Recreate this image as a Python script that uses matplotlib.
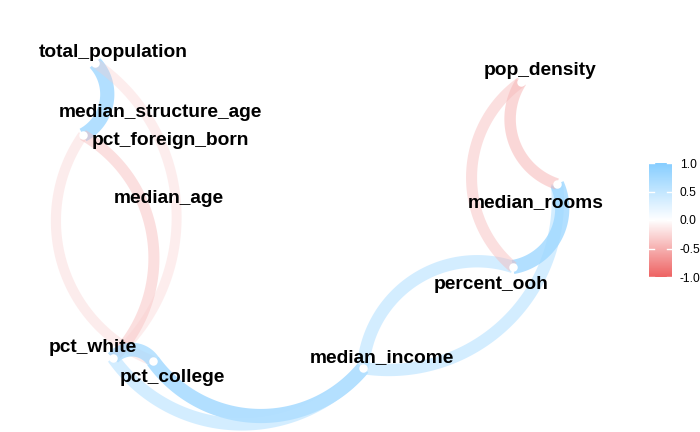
import numpy as np
import matplotlib
matplotlib.use("Agg")
import matplotlib.pyplot as plt
from matplotlib.colors import LinearSegmentedColormap

# ---- data -------------------------------------------------------------
variables = ["total_population", "median_structure_age", "pct_foreign_born",
             "median_age", "pct_white", "pct_college", "median_income",
             "percent_ooh", "median_rooms", "pop_density"]
# multidimensional-scaling layout of the variables (plot units)
layout_x = [95, 160, 83, 168.5, 113, 153, 363, 513, 557, 521]
layout_y = [369, 321, 297, 235, 74, 71, 64, 165, 248, 350]

# correlations above the minimum shown as paths
edge_from = ["total_population", "pct_college", "pct_foreign_born", "total_population",
             "pct_white", "median_income", "median_income", "median_income",
             "median_rooms", "median_rooms", "median_rooms", "percent_ooh"]
edge_to = ["pct_foreign_born", "pct_foreign_born", "pct_white", "pct_white",
           "pct_college", "pct_college", "pct_white", "percent_ooh",
           "median_income", "percent_ooh", "pop_density", "pop_density"]
edge_r = [0.80, -0.35, -0.45, -0.33,
          0.75, 0.80, 0.60, 0.60,
          0.60, 0.80, -0.50, -0.45]

legend_breaks = [-1.0, -0.5, 0.0, 0.5, 1.0]
legend_labels = ["-1.0", "-0.5", "0.0", "0.5", "1.0"]

# label placement (repelled text), baseline positions in plot units
label_x = [113.5, 160, 170.5, 168.5, 93, 172, 381.5, 491.5, 535.5, 540]
label_y = [375, 315, 287, 229, 80, 50, 70, 143, 225, 357]

# ---- styling ----------------------------------------------------------
cmap = LinearSegmentedColormap.from_list("corr", ["#EE6363", "#FFFFFF", "#87CEFF"])
W, H, DPI = 700, 432, 100
PX = 72.0 / DPI


def curve(x0, y0, x1, y1, curvature=0.49, n=120):
    mx, my = (x0 + x1) / 2, (y0 + y1) / 2
    dx, dy = x1 - x0, y1 - y0
    L = np.hypot(dx, dy)
    h = L / 2
    nx, ny = -dy / L, dx / L          # left-hand normal
    s = curvature * h
    R = (h * h + s * s) / (2 * s)
    cx, cy = mx + nx * (s - R), my + ny * (s - R)
    ab = np.arctan2(my + ny * s - cy, mx + nx * s - cx)
    phi = np.arcsin(min(1.0, h / R))
    t = np.linspace(-1, 1, n)
    px = cx + R * np.cos(ab + t * phi)
    py = cy + R * np.sin(ab + t * phi)
    if np.hypot(px[0] - x0, py[0] - y0) > np.hypot(px[-1] - x0, py[-1] - y0):
        px, py = px[::-1], py[::-1]
    return px, py


fig = plt.figure(figsize=(W / DPI, H / DPI), dpi=DPI)
ax = fig.add_axes([0, 0, 1, 1])
ax.set_xlim(0, W)
ax.set_ylim(0, H)
ax.axis("off")

pos = {v: (x, y) for v, x, y in zip(variables, layout_x, layout_y)}

for a, b, r in zip(edge_from, edge_to, edge_r):
    x0, y0 = pos[a]
    x1, y1 = pos[b]
    cx, cy = curve(x0, y0, x1, y1)
    ax.plot(cx, cy, color=cmap((r + 1) / 2), alpha=abs(r),
            lw=(7 + 9 * abs(r)) * PX, solid_capstyle="butt", zorder=1)

ax.scatter(layout_x, layout_y, s=(8.5 * PX) ** 2, color="white", zorder=3,
           linewidths=0)

for v, lx, ly in zip(variables, label_x, label_y):
    ax.text(lx, ly, v, ha="center", va="baseline", fontsize=19.2 * PX,
            fontweight="bold", family=["Liberation Sans", "DejaVu Sans"],
            color="black", zorder=4)

# ---- colour legend ----------------------------------------------------
cax = fig.add_axes([649 / W, (H - 277) / H, 23 / W, 114 / H])
grad = np.linspace(-1, 1, 300).reshape(-1, 1)
cax.imshow(grad, cmap=cmap, vmin=-1, vmax=1, origin="lower", aspect="auto",
           extent=[0, 1, -1, 1])
cax.set_xlim(0, 1)
cax.set_ylim(-1, 1)
for sp in cax.spines.values():
    sp.set_visible(False)
cax.set_xticks([])
for b in legend_breaks:
    cax.plot([0, 0.2], [b, b], color="white", lw=1.4 * PX)
    cax.plot([0.8, 1], [b, b], color="white", lw=1.4 * PX)
cax.yaxis.tick_right()
cax.set_yticks(legend_breaks)
cax.set_yticklabels(legend_labels, family=["Liberation Sans", "DejaVu Sans"],
                    fontsize=12 * PX, color="black")
cax.tick_params(axis="y", length=0, pad=8 * PX)

fig.savefig("out.png", dpi=DPI)
